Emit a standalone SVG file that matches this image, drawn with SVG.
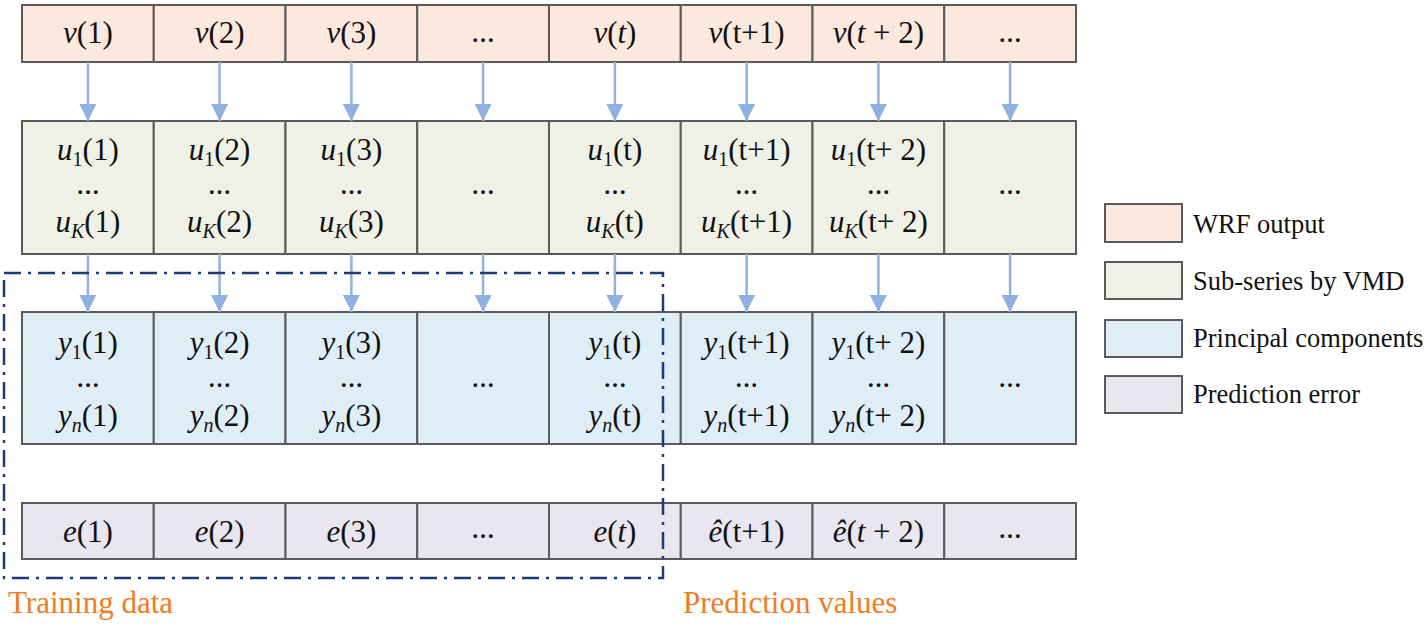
<svg xmlns="http://www.w3.org/2000/svg" width="1427" height="627" viewBox="0 0 1427 627">
<defs>
<style>
.cell{stroke:#5a5a5a;stroke-width:2}
.r1{fill:#fce8dc}.r2{fill:#eff1e7}.r3{fill:#dfedf7}.r4{fill:#e9e6f0}
text{font-family:"Liberation Serif","Times New Roman",serif;fill:#111}
.t{font-size:31px;text-anchor:middle}
.d{font-size:23px;font-weight:bold;text-anchor:middle}
.i{font-style:italic}
.s{font-size:20px}
.lg{font-size:26.5px}
.or{font-size:31px;fill:#f47a20}
.ar{stroke:#8fb1e0;stroke-width:2.5;fill:none}
</style>
<marker id="ah" viewBox="0 0 17 17" refX="17" refY="8.5" markerWidth="17" markerHeight="17" markerUnits="userSpaceOnUse" orient="auto">
<path d="M0,0 L17,8.5 L0,17 z" fill="#8fb1e0"/>
</marker>
</defs>
<rect width="1427" height="627" fill="#fff"/>

<!-- Row 1: WRF output -->
<g id="v1"><rect class="cell r1" x="22" y="5" width="131.75" height="57"/><text class="t" x="87.9" y="43"><tspan class="i">v</tspan>(1)</text></g>
<g id="v2"><rect class="cell r1" x="153.75" y="5" width="131.75" height="57"/><text class="t" x="219.6" y="43"><tspan class="i">v</tspan>(2)</text></g>
<g id="v3"><rect class="cell r1" x="285.5" y="5" width="131.75" height="57"/><text class="t" x="351.4" y="43"><tspan class="i">v</tspan>(3)</text></g>
<g id="v4"><rect class="cell r1" x="417.25" y="5" width="131.75" height="57"/><text class="d" x="483.1" y="42">…</text></g>
<g id="v5"><rect class="cell r1" x="549" y="5" width="131.75" height="57"/><text class="t" x="614.9" y="43"><tspan class="i">v</tspan>(<tspan class="i">t</tspan>)</text></g>
<g id="v6"><rect class="cell r1" x="680.75" y="5" width="131.75" height="57"/><text class="t" x="746.6" y="43"><tspan class="i">v</tspan>(t+1)</text></g>
<g id="v7"><rect class="cell r1" x="812.5" y="5" width="131.75" height="57"/><text class="t" x="878.4" y="43"><tspan class="i">v</tspan>(<tspan class="i">t</tspan> + 2)</text></g>
<g id="v8"><rect class="cell r1" x="944.25" y="5" width="131.75" height="57"/><text class="d" x="1010.1" y="42">…</text></g>

<!-- Row 2: Sub-series -->
<g id="u1"><rect class="cell r2" x="22" y="121" width="131.75" height="133"/>
<text class="t" x="87.9" y="160"><tspan class="i">u</tspan><tspan class="s" dy="6">1</tspan><tspan dy="-6">(1)</tspan></text>
<text class="d" x="87.9" y="194">…</text>
<text class="t" x="87.9" y="232"><tspan class="i">u</tspan><tspan class="s i" dy="6">K</tspan><tspan dy="-6">(1)</tspan></text></g>
<g id="u2"><rect class="cell r2" x="153.75" y="121" width="131.75" height="133"/>
<text class="t" x="219.6" y="160"><tspan class="i">u</tspan><tspan class="s" dy="6">1</tspan><tspan dy="-6">(2)</tspan></text>
<text class="d" x="219.6" y="194">…</text>
<text class="t" x="219.6" y="232"><tspan class="i">u</tspan><tspan class="s i" dy="6">K</tspan><tspan dy="-6">(2)</tspan></text></g>
<g id="u3"><rect class="cell r2" x="285.5" y="121" width="131.75" height="133"/>
<text class="t" x="351.4" y="160"><tspan class="i">u</tspan><tspan class="s" dy="6">1</tspan><tspan dy="-6">(3)</tspan></text>
<text class="d" x="351.4" y="194">…</text>
<text class="t" x="351.4" y="232"><tspan class="i">u</tspan><tspan class="s i" dy="6">K</tspan><tspan dy="-6">(3)</tspan></text></g>
<g id="u4"><rect class="cell r2" x="417.25" y="121" width="131.75" height="133"/>
<text class="d" x="483.1" y="194">…</text></g>
<g id="u5"><rect class="cell r2" x="549" y="121" width="131.75" height="133"/>
<text class="t" x="614.9" y="160"><tspan class="i">u</tspan><tspan class="s" dy="6">1</tspan><tspan dy="-6">(t)</tspan></text>
<text class="d" x="614.9" y="194">…</text>
<text class="t" x="614.9" y="232"><tspan class="i">u</tspan><tspan class="s i" dy="6">K</tspan><tspan dy="-6">(t)</tspan></text></g>
<g id="u6"><rect class="cell r2" x="680.75" y="121" width="131.75" height="133"/>
<text class="t" x="746.6" y="160"><tspan class="i">u</tspan><tspan class="s" dy="6">1</tspan><tspan dy="-6">(t+1)</tspan></text>
<text class="d" x="746.6" y="194">…</text>
<text class="t" x="746.6" y="232"><tspan class="i">u</tspan><tspan class="s i" dy="6">K</tspan><tspan dy="-6">(t+1)</tspan></text></g>
<g id="u7"><rect class="cell r2" x="812.5" y="121" width="131.75" height="133"/>
<text class="t" x="878.4" y="160"><tspan class="i">u</tspan><tspan class="s" dy="6">1</tspan><tspan dy="-6">(t+ 2)</tspan></text>
<text class="d" x="878.4" y="194">…</text>
<text class="t" x="878.4" y="232"><tspan class="i">u</tspan><tspan class="s i" dy="6">K</tspan><tspan dy="-6">(t+ 2)</tspan></text></g>
<g id="u8"><rect class="cell r2" x="944.25" y="121" width="131.75" height="133"/>
<text class="d" x="1010.1" y="194">…</text></g>

<!-- Row 3: Principal components -->
<g id="y1"><rect class="cell r3" x="22" y="312" width="131.75" height="132"/>
<text class="t" x="87.9" y="353"><tspan class="i">y</tspan><tspan class="s" dy="6">1</tspan><tspan dy="-6">(1)</tspan></text>
<text class="d" x="87.9" y="387">…</text>
<text class="t" x="87.9" y="426"><tspan class="i">y</tspan><tspan class="s i" dy="6">n</tspan><tspan dy="-6">(1)</tspan></text></g>
<g id="y2"><rect class="cell r3" x="153.75" y="312" width="131.75" height="132"/>
<text class="t" x="219.6" y="353"><tspan class="i">y</tspan><tspan class="s" dy="6">1</tspan><tspan dy="-6">(2)</tspan></text>
<text class="d" x="219.6" y="387">…</text>
<text class="t" x="219.6" y="426"><tspan class="i">y</tspan><tspan class="s i" dy="6">n</tspan><tspan dy="-6">(2)</tspan></text></g>
<g id="y3"><rect class="cell r3" x="285.5" y="312" width="131.75" height="132"/>
<text class="t" x="351.4" y="353"><tspan class="i">y</tspan><tspan class="s" dy="6">1</tspan><tspan dy="-6">(3)</tspan></text>
<text class="d" x="351.4" y="387">…</text>
<text class="t" x="351.4" y="426"><tspan class="i">y</tspan><tspan class="s i" dy="6">n</tspan><tspan dy="-6">(3)</tspan></text></g>
<g id="y4"><rect class="cell r3" x="417.25" y="312" width="131.75" height="132"/>
<text class="d" x="483.1" y="387">…</text></g>
<g id="y5"><rect class="cell r3" x="549" y="312" width="131.75" height="132"/>
<text class="t" x="614.9" y="353"><tspan class="i">y</tspan><tspan class="s" dy="6">1</tspan><tspan dy="-6">(t)</tspan></text>
<text class="d" x="614.9" y="387">…</text>
<text class="t" x="614.9" y="426"><tspan class="i">y</tspan><tspan class="s i" dy="6">n</tspan><tspan dy="-6">(t)</tspan></text></g>
<g id="y6"><rect class="cell r3" x="680.75" y="312" width="131.75" height="132"/>
<text class="t" x="746.6" y="353"><tspan class="i">y</tspan><tspan class="s" dy="6">1</tspan><tspan dy="-6">(t+1)</tspan></text>
<text class="d" x="746.6" y="387">…</text>
<text class="t" x="746.6" y="426"><tspan class="i">y</tspan><tspan class="s i" dy="6">n</tspan><tspan dy="-6">(t+1)</tspan></text></g>
<g id="y7"><rect class="cell r3" x="812.5" y="312" width="131.75" height="132"/>
<text class="t" x="878.4" y="353"><tspan class="i">y</tspan><tspan class="s" dy="6">1</tspan><tspan dy="-6">(t+ 2)</tspan></text>
<text class="d" x="878.4" y="387">…</text>
<text class="t" x="878.4" y="426"><tspan class="i">y</tspan><tspan class="s i" dy="6">n</tspan><tspan dy="-6">(t+ 2)</tspan></text></g>
<g id="y8"><rect class="cell r3" x="944.25" y="312" width="131.75" height="132"/>
<text class="d" x="1010.1" y="387">…</text></g>

<!-- Row 4: Prediction error -->
<g id="e1"><rect class="cell r4" x="22" y="503" width="131.75" height="56"/><text class="t" x="87.9" y="542"><tspan class="i">e</tspan>(1)</text></g>
<g id="e2"><rect class="cell r4" x="153.75" y="503" width="131.75" height="56"/><text class="t" x="219.6" y="542"><tspan class="i">e</tspan>(2)</text></g>
<g id="e3"><rect class="cell r4" x="285.5" y="503" width="131.75" height="56"/><text class="t" x="351.4" y="542"><tspan class="i">e</tspan>(3)</text></g>
<g id="e4"><rect class="cell r4" x="417.25" y="503" width="131.75" height="56"/><text class="d" x="483.1" y="538">…</text></g>
<g id="e5"><rect class="cell r4" x="549" y="503" width="131.75" height="56"/><text class="t" x="614.9" y="542"><tspan class="i">e</tspan>(<tspan class="i">t</tspan>)</text></g>
<g id="e6"><rect class="cell r4" x="680.75" y="503" width="131.75" height="56"/><text class="t" x="746.6" y="542"><tspan class="i">ê</tspan>(t+1)</text></g>
<g id="e7"><rect class="cell r4" x="812.5" y="503" width="131.75" height="56"/><text class="t" x="878.4" y="542"><tspan class="i">ê</tspan>(<tspan class="i">t</tspan> + 2)</text></g>
<g id="e8"><rect class="cell r4" x="944.25" y="503" width="131.75" height="56"/><text class="d" x="1010.1" y="538">…</text></g>

<!-- Connectors -->
<g id="connectors">
<line class="ar" x1="87.9" y1="62" x2="87.9" y2="121" marker-end="url(#ah)"/>
<line class="ar" x1="219.6" y1="62" x2="219.6" y2="121" marker-end="url(#ah)"/>
<line class="ar" x1="351.4" y1="62" x2="351.4" y2="121" marker-end="url(#ah)"/>
<line class="ar" x1="483.1" y1="62" x2="483.1" y2="121" marker-end="url(#ah)"/>
<line class="ar" x1="614.9" y1="62" x2="614.9" y2="121" marker-end="url(#ah)"/>
<line class="ar" x1="746.6" y1="62" x2="746.6" y2="121" marker-end="url(#ah)"/>
<line class="ar" x1="878.4" y1="62" x2="878.4" y2="121" marker-end="url(#ah)"/>
<line class="ar" x1="1010.1" y1="62" x2="1010.1" y2="121" marker-end="url(#ah)"/>
<line class="ar" x1="87.9" y1="254" x2="87.9" y2="312" marker-end="url(#ah)"/>
<line class="ar" x1="219.6" y1="254" x2="219.6" y2="312" marker-end="url(#ah)"/>
<line class="ar" x1="351.4" y1="254" x2="351.4" y2="312" marker-end="url(#ah)"/>
<line class="ar" x1="483.1" y1="254" x2="483.1" y2="312" marker-end="url(#ah)"/>
<line class="ar" x1="614.9" y1="254" x2="614.9" y2="312" marker-end="url(#ah)"/>
<line class="ar" x1="746.6" y1="254" x2="746.6" y2="312" marker-end="url(#ah)"/>
<line class="ar" x1="878.4" y1="254" x2="878.4" y2="312" marker-end="url(#ah)"/>
<line class="ar" x1="1010.1" y1="254" x2="1010.1" y2="312" marker-end="url(#ah)"/>
</g>

<!-- Training data frame -->
<g id="training-frame">
<rect x="4" y="273" width="659" height="305" fill="none" stroke="#1c3a78" stroke-width="2.5" stroke-dasharray="17 7 3 7"/>
<text class="or" x="8" y="613">Training data</text>
</g>
<g id="prediction-label"><text class="or" x="683" y="613">Prediction values</text></g>

<!-- Legend -->
<g id="legend-wrf"><rect class="cell r1" x="1105" y="204" width="77" height="38"/><text class="lg" x="1193" y="233">WRF output</text></g>
<g id="legend-vmd"><rect class="cell r2" x="1105" y="262" width="77" height="37"/><text class="lg" x="1193" y="290">Sub-series by VMD</text></g>
<g id="legend-pc"><rect class="cell r3" x="1105" y="320" width="77" height="37"/><text class="lg" x="1193" y="347">Principal components</text></g>
<g id="legend-err"><rect class="cell r4" x="1105" y="376" width="77" height="37"/><text class="lg" x="1193" y="403">Prediction error</text></g>
</svg>
